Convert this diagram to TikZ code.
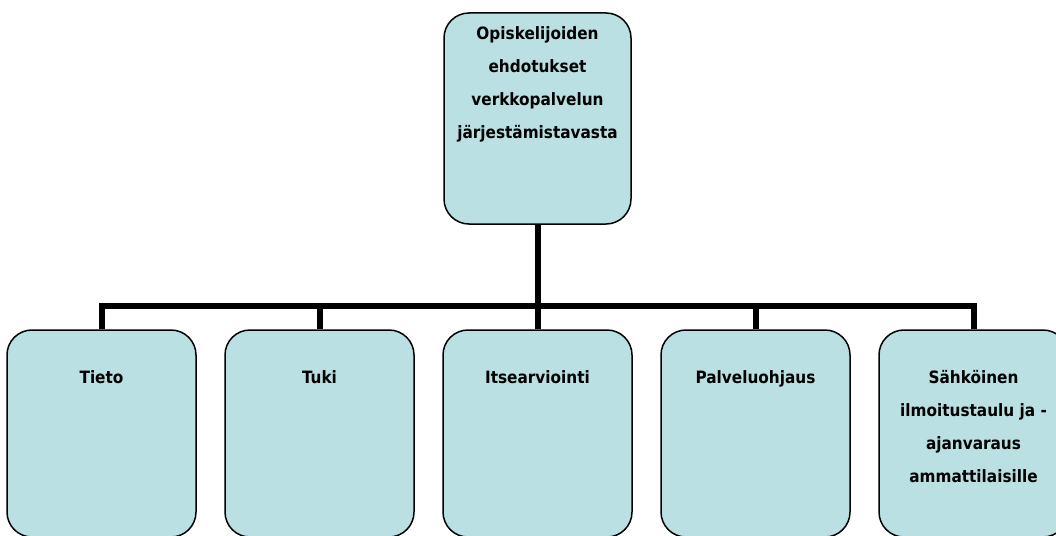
\documentclass[tikz,border=0pt]{standalone}
\usepackage{fontspec}
\setmainfont{DejaVu Sans Condensed}
\usetikzlibrary{positioning}
\definecolor{boxblue}{RGB}{186,224,227}

\begin{document}
\begin{tikzpicture}[x=1pt, y=-1pt, node distance=27.5pt, main/.style = {draw, line width=1.5pt, fill=boxblue, rounded corners=25pt, minimum width=189pt, minimum height=207pt, inner sep=0pt}, txt/.style = {anchor=north, align=center, inner sep=0pt, font=\bfseries\fontsize{17}{33}\selectfont}, bus/.style = {line width=6pt}]
            \useasboundingbox (0,0) rectangle (1056,535);
            \node[main, minimum width=187pt, minimum height=211pt] (root) at (537.5,118.5) {};
            \node[main] (tieto) at (101.5,433.5) {};
            \node[main] (tuki) [right = of tieto] {};
            \node[main] (itse) [right = of tuki] {};
            \node[main] (palvelu) [right = of itse] {};
            \node[main] (sahko) [right = of palvelu] {};
            \coordinate (bus) at (0,306);
            \node[txt] (roottxt) at ([yshift=-14pt]root.north) {Opiskelijoiden\\ehdotukset\\verkkopalvelun\\järjestämistavasta};
            \node[txt] (tietotxt) at ([yshift=-41pt]tieto.north) {Tieto};
            \node[txt] (tukitxt) at ([yshift=-41pt]tuki.north) {Tuki};
            \node[txt] (itsetxt) at ([yshift=-41pt]itse.north) {Itsearviointi};
            \node[txt] (palvelutxt) at ([yshift=-41pt]palvelu.north) {Palveluohjaus};
            \node[txt] (sahkotxt) at ([yshift=-41pt]sahko.north) {Sähköinen\\ilmoitustaulu ja -\\ajanvaraus\\ammattilaisille};
            \draw[bus] (root.south) -- (root.south |- itse.north);
            \draw[bus] (tieto.north) -- (tieto.north |- bus) -- (sahko.north |- bus) -- (sahko.north);
            \foreach \n in {tuki, palvelu}
                \draw[bus] (\n.north |- bus) -- (\n.north);
        \end{tikzpicture}
\end{document}
